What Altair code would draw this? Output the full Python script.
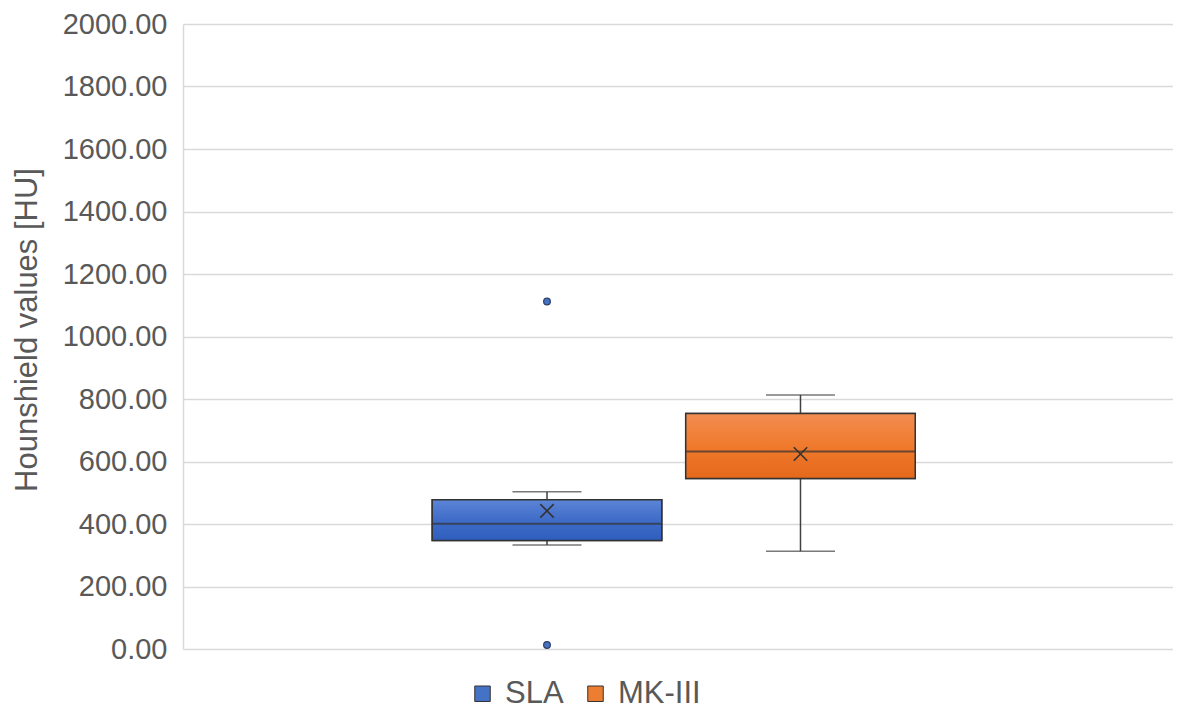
import altair as alt
import pandas as pd

# ---- data ----
series = ["SLA", "MK-III"]
whisker_low = [333, 313]
q1 = [347, 546]
median = [401, 632]
q3 = [478, 754]
whisker_high = [503, 813]
mean = [442, 624]

outlier_series = ["SLA", "SLA"]
outlier_values = [1112, 13]

y_ticks = [0, 200, 400, 600, 800, 1000, 1200, 1400, 1600, 1800, 2000]

solid_colors = ["#4472c4", "#ed7d31"]
grad_stops = {
    "SLA": ["#5c85d6", "#3f6cc8", "#2e5ebd"],
    "MK-III": ["#f28d52", "#f07a2c", "#e5681c"],
}

stats = pd.DataFrame({
    "series": series, "lo": whisker_low, "q1": q1, "med": median,
    "q3": q3, "hi": whisker_high, "mean": mean,
})
outliers = pd.DataFrame({"series": outlier_series, "value": outlier_values})

PLOT_W = 990
PLOT_H = 625

x_scale = alt.Scale(domain=series, paddingInner=0.0945, paddingOuter=1.0, align=0.4916)
x_enc = alt.X("series:N", scale=x_scale, axis=None, sort=series)
y_scale = alt.Scale(domain=[0, 2000], nice=False)
y_axis = alt.Axis(values=y_ticks, format=".2f", title="Hounshield values [HU]",
                  titleX=-156, titleY=PLOT_H / 2 - 7, titleAngle=270,
                  titleAlign="center", titleBaseline="middle")

base = alt.Chart(stats)

whisk_up = base.mark_rule(color="#404040", strokeWidth=1.5).encode(
    x=x_enc, y=alt.Y("q3:Q", scale=y_scale, axis=y_axis), y2="hi:Q")
whisk_dn = base.mark_rule(color="#404040", strokeWidth=1.5).encode(
    x=x_enc, y=alt.Y("lo:Q", scale=y_scale), y2="q1:Q")
cap_hi = base.mark_tick(color="#404040", thickness=1.5, size=69, orient="horizontal").encode(
    x=x_enc, y=alt.Y("hi:Q", scale=y_scale))
cap_lo = base.mark_tick(color="#404040", thickness=1.5, size=69, orient="horizontal").encode(
    x=x_enc, y=alt.Y("lo:Q", scale=y_scale))

box_solid = base.mark_bar(stroke="#333333", strokeWidth=1.5).encode(
    x=x_enc, y=alt.Y("q1:Q", scale=y_scale), y2="q3:Q",
    color=alt.Color("series:N", scale=alt.Scale(domain=series, range=solid_colors),
                    sort=series,
                    legend=alt.Legend(title=None, orient="none", direction="horizontal",
                                      legendX=284, legendY=654, padding=0,
                                      symbolType="square", symbolSize=240,
                                      symbolStrokeColor="#333333", symbolStrokeWidth=1,
                                      labelFontSize=31, labelColor="#595959",
                                      labelFont="Liberation Sans", labelOffset=7,
                                      columnPadding=16)),
)

grad_layers = []
for s in series:
    st = grad_stops[s]
    g = alt.Gradient(
        gradient="linear", x1=0, x2=0, y1=0, y2=1,
        stops=[alt.GradientStop(color=st[0], offset=0),
               alt.GradientStop(color=st[1], offset=0.5),
               alt.GradientStop(color=st[2], offset=1)],
    )
    grad_layers.append(
        base.transform_filter(alt.datum.series == s)
        .mark_bar(fill=g, stroke="#333333", strokeWidth=1.5)
        .encode(x=x_enc, y=alt.Y("q1:Q", scale=y_scale), y2="q3:Q")
    )

med_tick = base.mark_tick(color="#333333", thickness=2, size=229, orient="horizontal").encode(
    x=x_enc, y=alt.Y("med:Q", scale=y_scale))

mean_mark = base.mark_point(
    shape="M-1,-1L1,1M-1,1L1,-1", size=180, filled=False,
    color="#333333", strokeWidth=1.6, opacity=1,
).encode(x=x_enc, y=alt.Y("mean:Q", scale=y_scale))

out_mark = alt.Chart(outliers).mark_point(
    filled=True, size=45, fill="#4472c4", stroke="#2f3d66", strokeWidth=1.2, opacity=1,
).encode(x=x_enc, y=alt.Y("value:Q", scale=y_scale))

chart = alt.layer(
    whisk_up, whisk_dn, cap_hi, cap_lo, box_solid, *grad_layers, med_tick, mean_mark, out_mark
).properties(
    width=PLOT_W, height=PLOT_H,
    autosize=alt.AutoSizeParams(type="none"),
    padding={"left": 175, "top": 16, "right": 0, "bottom": 65},
).configure_view(stroke=None).configure_axisY(
    grid=True, gridColor="#d9d9d9", gridWidth=1.5,
    domain=True, domainColor="#d9d9d9", domainWidth=1.5,
    ticks=False, labelPadding=16,
    labelFont="Liberation Sans", labelFontSize=29, labelColor="#595959",
    titleFont="Liberation Sans", titleFontSize=31, titleFontWeight="normal",
    titleColor="#595959",
)

chart.save("out.html", embed_options={"renderer": "svg", "actions": False})
